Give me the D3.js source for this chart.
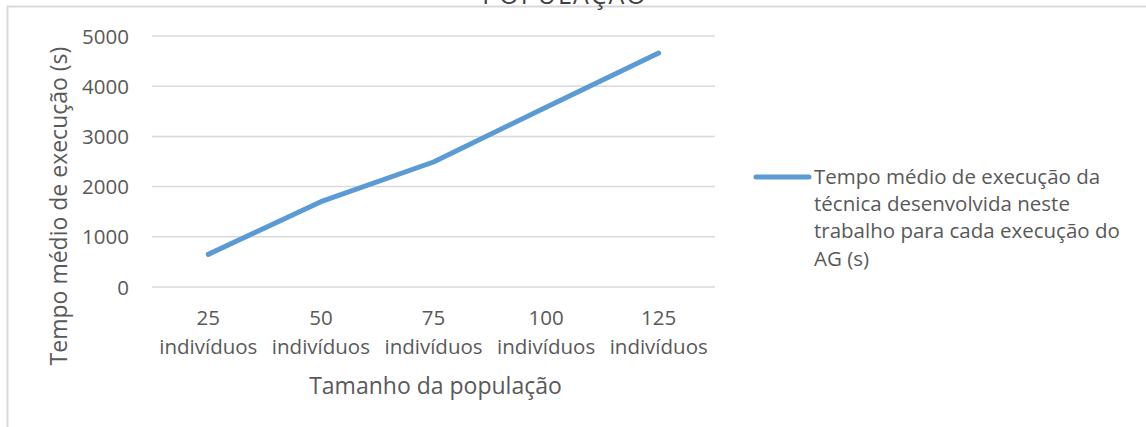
<!DOCTYPE html>
<html>
<head>
<meta charset="utf-8">
<script src="https://cdn.jsdelivr.net/npm/d3@7"></script>
<style>
  body { margin: 0; background: #fff; }
  text { font-family: "Open Sans", sans-serif; fill: #595959; }
</style>
</head>
<body>
<div id="chart"></div>
<script>
// data
const categories = ["25 indivíduos", "50 indivíduos", "75 indivíduos", "100 indivíduos", "125 indivíduos"];
const tempoMedio = [650, 1700, 2490, 3580, 4660];
const yTicks = [0, 1000, 2000, 3000, 4000, 5000];
const seriesName = ["Tempo médio de execução da", "técnica desenvolvida neste", "trabalho para cada execução do", "AG (s)"];
const chartTitle = "POPULAÇÃO";
const xTitle = "Tamanho da população";
const yTitle = "Tempo médio de execução (s)";

const W = 1146, H = 427;
const margin = {top: 36, right: 431, bottom: 140, left: 152};
const width = W - margin.left - margin.right;
const height = H - margin.top - margin.bottom;

const svg = d3.select("#chart").append("svg")
    .attr("width", W)
    .attr("height", H);

// chart frame (cropped)
svg.append("rect")
    .attr("x", 7.5).attr("y", 6.5)
    .attr("width", W + 20).attr("height", H + 20)
    .attr("fill", "none")
    .attr("stroke", "#d9d9d9")
    .attr("stroke-width", 2);

// title, mostly cut off at the top
svg.append("text")
    .attr("x", 565).attr("y", 4)
    .attr("text-anchor", "middle")
    .style("font-size", "25px")
    .style("fill", "#404040")
    .style("letter-spacing", "2px")
    .text(chartTitle);

const g = svg.append("g")
    .attr("transform", "translate(" + margin.left + "," + margin.top + ")");

const x = d3.scaleBand().domain(categories).range([0, width]);
const y = d3.scaleLinear().domain([0, 5000]).range([height, 0]);

// gridlines
g.selectAll(".grid").data(yTicks).enter().append("line")
    .attr("class", "grid")
    .attr("x1", 0).attr("x2", width)
    .attr("y1", d => y(d)).attr("y2", d => y(d))
    .attr("stroke", "#d9d9d9")
    .attr("stroke-width", 1.5);

// y axis labels
const yAxis = d3.axisLeft(y).tickValues(yTicks).tickSize(0).tickPadding(23).tickFormat(d3.format("d"));
g.append("g").attr("class", "y-axis").call(yAxis)
    .call(a => a.select(".domain").remove())
    .selectAll("text")
    .style("font-size", "20.5px")
    .attr("dy", "0.35em");

// x axis labels, two lines each
const xAxis = d3.axisBottom(x).tickSize(0).tickPadding(0).tickFormat("");
const xg = g.append("g").attr("class", "x-axis")
    .attr("transform", "translate(0," + height + ")")
    .call(xAxis);
xg.select(".domain").remove();
xg.selectAll(".tick").append("text")
    .attr("text-anchor", "middle")
    .style("font-size", "20.5px")
    .selectAll("tspan")
    .data(d => d.split(" "))
    .enter().append("tspan")
    .attr("x", 0)
    .attr("y", (d, i) => 38 + i * 29)
    .text(d => d);

// axis titles
svg.append("text")
    .attr("x", margin.left + width / 2 + 2).attr("y", 394)
    .attr("text-anchor", "middle")
    .style("font-size", "23px")
    .text(xTitle);

svg.append("text")
    .attr("transform", "translate(67,206) rotate(-90)")
    .attr("text-anchor", "middle")
    .style("font-size", "23px")
    .text(yTitle);

// the line
const line = d3.line()
    .x((d, i) => x(categories[i]) + x.bandwidth() / 2)
    .y(d => y(d));

g.append("path")
    .datum(tempoMedio)
    .attr("d", line)
    .attr("fill", "none")
    .attr("stroke", "#5b9bd5")
    .attr("stroke-width", 5)
    .attr("stroke-linecap", "round")
    .attr("stroke-linejoin", "round");

// legend
const legend = svg.append("g").attr("transform", "translate(756,177)");
legend.append("line")
    .attr("x1", 0).attr("x2", 53)
    .attr("y1", 0).attr("y2", 0)
    .attr("stroke", "#5b9bd5")
    .attr("stroke-width", 5)
    .attr("stroke-linecap", "round");
legend.append("text")
    .attr("x", 58).attr("y", 0)
    .style("font-size", "20.5px")
    .selectAll("tspan")
    .data(seriesName)
    .enter().append("tspan")
    .attr("x", 58)
    .attr("y", (d, i) => 7 + i * 27.2)
    .text(d => d);
</script>
</body>
</html>
